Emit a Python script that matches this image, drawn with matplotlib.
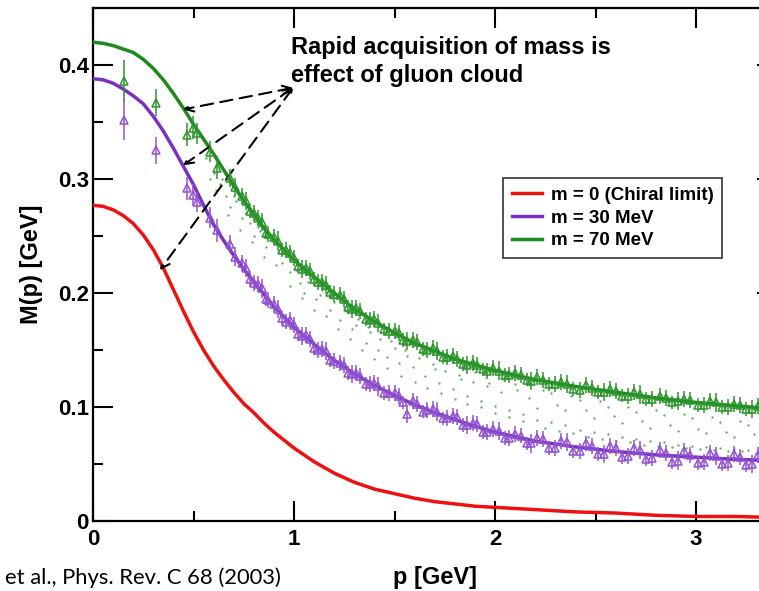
import matplotlib
matplotlib.use("Agg")
import matplotlib.pyplot as plt
from matplotlib.ticker import MultipleLocator, FixedLocator, FixedFormatter

# dressed quark mass function
p_curve = [0.0, 0.05, 0.1, 0.15, 0.2, 0.25, 0.3, 0.35, 0.4, 0.45, 0.5, 0.55, 0.6,
           0.65, 0.7, 0.75, 0.8, 0.85, 0.9, 0.95, 1.0, 1.1, 1.2, 1.3, 1.4, 1.5,
           1.6, 1.7, 1.8, 1.9, 2.0, 2.2, 2.4, 2.6, 2.8, 3.0, 3.2, 3.4]
m_chiral = [0.277, 0.276, 0.273, 0.268, 0.261, 0.251, 0.238, 0.222, 0.203, 0.184,
            0.166, 0.150, 0.136, 0.124, 0.113, 0.103, 0.095, 0.086, 0.078, 0.071,
            0.064, 0.052, 0.042, 0.034, 0.028, 0.024, 0.020, 0.017, 0.015, 0.013,
            0.012, 0.010, 0.008, 0.007, 0.005, 0.004, 0.004, 0.003]
m_30 = [0.388, 0.387, 0.384, 0.379, 0.373, 0.366, 0.355, 0.342, 0.327, 0.311,
        0.295, 0.277, 0.260, 0.246, 0.233, 0.221, 0.210, 0.199, 0.188, 0.179,
        0.170, 0.155, 0.141, 0.129, 0.119, 0.110, 0.102, 0.095, 0.089, 0.083,
        0.078, 0.070, 0.065, 0.061, 0.058, 0.056, 0.054, 0.053]
m_70 = [0.420, 0.419, 0.417, 0.414, 0.411, 0.405, 0.397, 0.387, 0.375, 0.362,
        0.348, 0.335, 0.322, 0.308, 0.294, 0.281, 0.269, 0.257, 0.247, 0.238,
        0.229, 0.214, 0.200, 0.186, 0.175, 0.165, 0.156, 0.149, 0.142, 0.137,
        0.132, 0.124, 0.118, 0.113, 0.108, 0.104, 0.101, 0.098]

# lattice points (open triangles with error bars), two momentum sets
p_lat = [0.154, 0.313, 0.468, 0.498, 0.517, 0.58, 0.617, 0.68, 0.706, 0.76, 0.80,
         0.84, 0.87, 0.92, 0.96, 1.00, 1.04, 1.08, 1.12, 1.16, 1.20, 1.25, 1.29,
         1.33, 1.38, 1.42, 1.47, 1.52, 1.56, 1.61, 1.66, 1.71, 1.76, 1.81, 1.86,
         1.91, 1.96, 2.02, 2.07, 2.13, 2.18, 2.24, 2.30, 2.36, 2.42, 2.48, 2.54,
         2.60, 2.66, 2.72, 2.78, 2.85, 2.91, 2.97, 3.04, 3.10, 3.16, 3.22, 3.28,
         3.34, 3.40]
lat_70 = [0.386, 0.367, 0.339, 0.345, 0.340, 0.324, 0.310, 0.301, 0.293, 0.281,
          0.270, 0.262, 0.252, 0.246, 0.238, 0.231, 0.221, 0.219, 0.210, 0.207,
          0.199, 0.195, 0.186, 0.184, 0.176, 0.174, 0.167, 0.165, 0.158, 0.157,
          0.150, 0.149, 0.144, 0.142, 0.137, 0.137, 0.132, 0.132, 0.128, 0.128,
          0.123, 0.124, 0.120, 0.120, 0.115, 0.117, 0.113, 0.114, 0.110, 0.111,
          0.107, 0.108, 0.105, 0.106, 0.102, 0.104, 0.100, 0.102, 0.098, 0.101,
          0.097]
lat_30 = [0.352, 0.325, 0.292, 0.286, 0.280, 0.266, 0.255, 0.243, 0.232, 0.222,
          0.209, 0.204, 0.194, 0.186, 0.175, 0.172, 0.162, 0.160, 0.150, 0.149,
          0.140, 0.137, 0.129, 0.127, 0.120, 0.118, 0.112, 0.110, 0.094, 0.103,
          0.097, 0.096, 0.090, 0.091, 0.084, 0.085, 0.078, 0.079, 0.073, 0.075,
          0.068, 0.072, 0.064, 0.069, 0.061, 0.066, 0.059, 0.064, 0.057, 0.062,
          0.055, 0.060, 0.053, 0.058, 0.052, 0.057, 0.051, 0.056, 0.050, 0.055,
          0.051]
lat_err = [0.018, 0.012, 0.010, 0.010, 0.009, 0.009, 0.010, 0.008, 0.008, 0.008,
           0.007, 0.008, 0.007, 0.008, 0.007, 0.007, 0.008, 0.007, 0.007, 0.008,
           0.007, 0.007, 0.008, 0.007, 0.007, 0.008, 0.007, 0.007, 0.008, 0.007,
           0.007, 0.008, 0.007, 0.007, 0.008, 0.007, 0.007, 0.008, 0.007, 0.007,
           0.008, 0.007, 0.007, 0.008, 0.007, 0.007, 0.008, 0.007, 0.007, 0.008,
           0.007, 0.007, 0.008, 0.007, 0.007, 0.008, 0.007, 0.007, 0.008, 0.007,
           0.007]

p_lat2 = [0.74, 0.78, 0.82, 0.86, 0.90, 0.94, 0.98, 1.02, 1.06, 1.10, 1.14, 1.18,
          1.23, 1.27, 1.31, 1.36, 1.40, 1.45, 1.50, 1.54, 1.59, 1.64, 1.69, 1.74,
          1.79, 1.84, 1.89, 1.94, 1.99, 2.05, 2.10, 2.16, 2.21, 2.27, 2.33, 2.39,
          2.45, 2.51, 2.57, 2.63, 2.69, 2.75, 2.82, 2.88, 2.94, 3.01, 3.07, 3.13,
          3.19, 3.25, 3.31, 3.37]
lat2_70 = [0.285, 0.272, 0.266, 0.253, 0.249, 0.238, 0.235, 0.224, 0.222, 0.212,
           0.210, 0.201, 0.198, 0.188, 0.187, 0.177, 0.177, 0.168, 0.167, 0.159,
           0.159, 0.151, 0.152, 0.144, 0.145, 0.138, 0.139, 0.133, 0.134, 0.128,
           0.130, 0.124, 0.126, 0.120, 0.122, 0.116, 0.119, 0.113, 0.116, 0.110,
           0.113, 0.107, 0.110, 0.104, 0.107, 0.102, 0.105, 0.100, 0.103, 0.098,
           0.101, 0.096]
lat2_30 = [0.226, 0.212, 0.208, 0.195, 0.190, 0.178, 0.176, 0.164, 0.163, 0.152,
           0.151, 0.141, 0.139, 0.130, 0.130, 0.120, 0.121, 0.112, 0.112, 0.104,
           0.105, 0.096, 0.098, 0.090, 0.092, 0.084, 0.086, 0.078, 0.081, 0.073,
           0.076, 0.068, 0.073, 0.064, 0.070, 0.061, 0.068, 0.059, 0.066, 0.056,
           0.064, 0.054, 0.062, 0.052, 0.061, 0.051, 0.060, 0.050, 0.059, 0.049,
           0.058, 0.048]
lat2_err = [0.007, 0.006, 0.007, 0.006, 0.007, 0.006, 0.007, 0.006, 0.007, 0.006,
            0.007, 0.006, 0.007, 0.006, 0.007, 0.006, 0.007, 0.006, 0.007, 0.006,
            0.007, 0.006, 0.007, 0.006, 0.007, 0.006, 0.007, 0.006, 0.007, 0.006,
            0.007, 0.006, 0.007, 0.006, 0.007, 0.006, 0.007, 0.006, 0.007, 0.006,
            0.007, 0.006, 0.007, 0.006, 0.007, 0.006, 0.007, 0.006, 0.007, 0.006,
            0.007, 0.006]

# small dots filling the band between the two lattice sets
p_dots = [0.56, 0.60, 0.63, 0.66, 0.68, 0.71, 0.74, 0.78, 0.80, 0.83, 0.86, 0.89,
          0.92, 0.94, 0.98, 1.00, 1.03, 1.05, 1.08, 1.11, 1.14, 1.18, 1.20, 1.23,
          1.26, 1.29, 1.32, 1.36, 1.38, 1.42, 1.46, 1.48, 1.52, 1.55, 1.59, 1.62,
          1.65, 1.69, 1.72, 1.75, 1.79, 1.82, 1.86, 1.89, 1.93, 1.96, 2.00, 2.03,
          2.07, 2.10, 2.14, 2.17, 2.21, 2.24, 2.28, 2.31, 2.35, 2.38, 2.42, 2.45,
          2.49, 2.52, 2.56, 2.59, 2.63, 2.66, 2.70, 2.73, 2.77, 2.80, 2.84, 2.87,
          2.91, 2.94, 2.98, 3.01, 3.05, 3.08, 3.12, 3.15, 3.19, 3.22, 3.26, 3.29,
          3.33, 3.36, 3.40]
m_dots = [0.318, 0.305, 0.296, 0.285, 0.275, 0.281, 0.266, 0.261, 0.250, 0.254,
          0.240, 0.246, 0.238, 0.226, 0.218, 0.228, 0.209, 0.200, 0.212, 0.195,
          0.203, 0.185, 0.192, 0.176, 0.184, 0.168, 0.177, 0.156, 0.166, 0.150,
          0.144, 0.158, 0.139, 0.150, 0.135, 0.143, 0.127, 0.138, 0.121, 0.132,
          0.116, 0.128, 0.110, 0.122, 0.105, 0.118, 0.101, 0.113, 0.097, 0.120,
          0.094, 0.108, 0.089, 0.115, 0.087, 0.102, 0.084, 0.110, 0.080, 0.097,
          0.078, 0.105, 0.076, 0.092, 0.074, 0.100, 0.072, 0.088, 0.070, 0.097,
          0.069, 0.084, 0.067, 0.094, 0.066, 0.081, 0.065, 0.091, 0.064, 0.078,
          0.063, 0.088, 0.062, 0.076, 0.061, 0.086, 0.070]
p_dots2 = [0.58, 0.61, 0.64, 0.67, 0.70, 0.73, 0.76, 0.79, 0.82, 0.85, 0.88, 0.91,
           0.95, 0.98, 1.01, 1.04, 1.07, 1.10, 1.13, 1.16, 1.19, 1.22, 1.25, 1.28,
           1.31, 1.34, 1.37, 1.40, 1.43, 1.46, 1.50, 1.53, 1.56, 1.60, 1.63, 1.66,
           1.70, 1.73, 1.76, 1.80, 1.83, 1.86, 1.90, 1.93, 1.97, 2.00, 2.04, 2.07,
           2.11, 2.14, 2.18, 2.21, 2.25, 2.28, 2.32, 2.35, 2.39, 2.42, 2.46, 2.49,
           2.53, 2.56, 2.60, 2.63, 2.67, 2.70, 2.74, 2.77, 2.81, 2.84, 2.88, 2.91,
           2.95, 2.98, 3.02, 3.05, 3.09, 3.12, 3.16, 3.19, 3.23, 3.26, 3.30, 3.33,
           3.37, 3.40]
m_dots2 = [0.300, 0.290, 0.300, 0.268, 0.285, 0.255, 0.270, 0.245, 0.258, 0.232,
           0.250, 0.225, 0.235, 0.206, 0.220, 0.196, 0.210, 0.185, 0.198, 0.180,
           0.196, 0.168, 0.188, 0.160, 0.172, 0.150, 0.170, 0.142, 0.160, 0.134,
           0.152, 0.127, 0.145, 0.122, 0.148, 0.117, 0.133, 0.112, 0.140, 0.107,
           0.125, 0.103, 0.131, 0.100, 0.121, 0.095, 0.125, 0.091, 0.115, 0.088,
           0.120, 0.099, 0.082, 0.112, 0.079, 0.097, 0.077, 0.106, 0.074, 0.090,
           0.072, 0.100, 0.070, 0.086, 0.069, 0.096, 0.067, 0.082, 0.066, 0.093,
           0.065, 0.079, 0.064, 0.090, 0.063, 0.077, 0.062, 0.087, 0.061, 0.074,
           0.061, 0.084, 0.060, 0.072, 0.060, 0.082]

labels = ["m = 0 (Chiral limit)", "m = 30 MeV", "m = 70 MeV"]
x_ticks = [0, 1, 2, 3]
y_ticks = [0, 0.1, 0.2, 0.3, 0.4]
y_ticklabels = ["0", "0.1", "0.2", "0.3", "0.4"]

RED = "#ee1111"
PURPLE = "#7a30c0"
GREEN = "#1d8a1d"
PURPLE_PTS = "#9152d2"
GREEN_PTS = "#2c962c"

plt.rcParams["font.family"] = ["Liberation Sans", "DejaVu Sans"]

fig = plt.figure(figsize=(7.59, 5.91), dpi=100)
ax = fig.add_axes([0.1225, 0.1184, 0.9006, 0.8681])

ax.plot(p_dots, m_dots, ".", color="#5cb05c", ms=1.4, zorder=1)
ax.plot(p_dots2, m_dots2, ".", color="#5cb05c", ms=1.4, zorder=1)

ax.plot(p_curve, m_chiral, color=RED, lw=2.5, zorder=3, label=labels[0])
ax.plot(p_curve, m_30, color=PURPLE, lw=2.5, zorder=3, label=labels[1])
ax.plot(p_curve, m_70, color=GREEN, lw=2.5, zorder=3, label=labels[2])

pts = dict(fmt="^", mfc="none", ms=6, mew=1.1, elinewidth=1.1, capsize=0, zorder=4)
ax.errorbar(p_lat, lat_30, yerr=lat_err, color=PURPLE_PTS, **pts)
ax.errorbar(p_lat2, lat2_30, yerr=lat2_err, color=PURPLE_PTS, **pts)
ax.errorbar(p_lat, lat_70, yerr=lat_err, color=GREEN_PTS, **pts)
ax.errorbar(p_lat2, lat2_70, yerr=lat2_err, color=GREEN_PTS, **pts)

ax.set_xlim(0, 3.4)
ax.set_ylim(0, 0.45)

ax.xaxis.set_major_locator(FixedLocator(x_ticks))
ax.xaxis.set_minor_locator(MultipleLocator(0.5))
ax.yaxis.set_major_locator(FixedLocator(y_ticks))
ax.yaxis.set_major_formatter(FixedFormatter(y_ticklabels))
ax.yaxis.set_minor_locator(MultipleLocator(0.05))
ax.tick_params(which="both", direction="in", top=True, right=True, width=1.5)
ax.tick_params(which="major", length=14.5, labelsize=16, pad=3)
ax.tick_params(which="minor", length=7)
ax.tick_params(axis="x", which="major", pad=6)
for lab in ax.get_xticklabels() + ax.get_yticklabels():
    lab.set_fontweight("bold")
for sp in ax.spines.values():
    sp.set_linewidth(1.6)

ax.set_xlabel("p [GeV]", fontsize=17, fontweight="bold", va="center")
ax.set_ylabel("M(p) [GeV]", fontsize=17, fontweight="bold", va="center")
ax.xaxis.set_label_coords(0.5, -0.111)
ax.yaxis.set_label_coords(-0.09, 0.5)

leg = ax.legend(loc="upper left", bbox_to_anchor=(0.60, 0.668),
                prop={"weight": "bold", "size": 13.5}, frameon=True, fancybox=False,
                handlelength=1.6, handletextpad=0.5, borderpad=0.45,
                labelspacing=0.3, borderaxespad=0)
leg.get_frame().set_edgecolor("black")
leg.get_frame().set_linewidth(1.2)

# annotation with dashed arrows from the text to the three curves
ax.text(0.985, 0.403, "Rapid acquisition of mass is\neffect of gluon cloud",
        fontsize=17, fontweight="bold", ha="left", va="center", linespacing=1.3)
origin = (0.995, 0.380)
for tip in [(0.448, 0.361), (0.448, 0.312), (0.333, 0.220)]:
    ax.annotate("", xy=tip, xytext=origin,
                arrowprops=dict(arrowstyle="<->", color="black", lw=1.5,
                                linestyle=(0, (6, 3.5)), mutation_scale=15,
                                shrinkA=0, shrinkB=0))

fig.text(5 / 759, 1 - 578 / 591, "et al., Phys. Rev. C 68 (2003)",
         fontsize=15.8, family=["Lato", "DejaVu Sans"], ha="left", va="center")

fig.savefig("out.png", dpi=100)
